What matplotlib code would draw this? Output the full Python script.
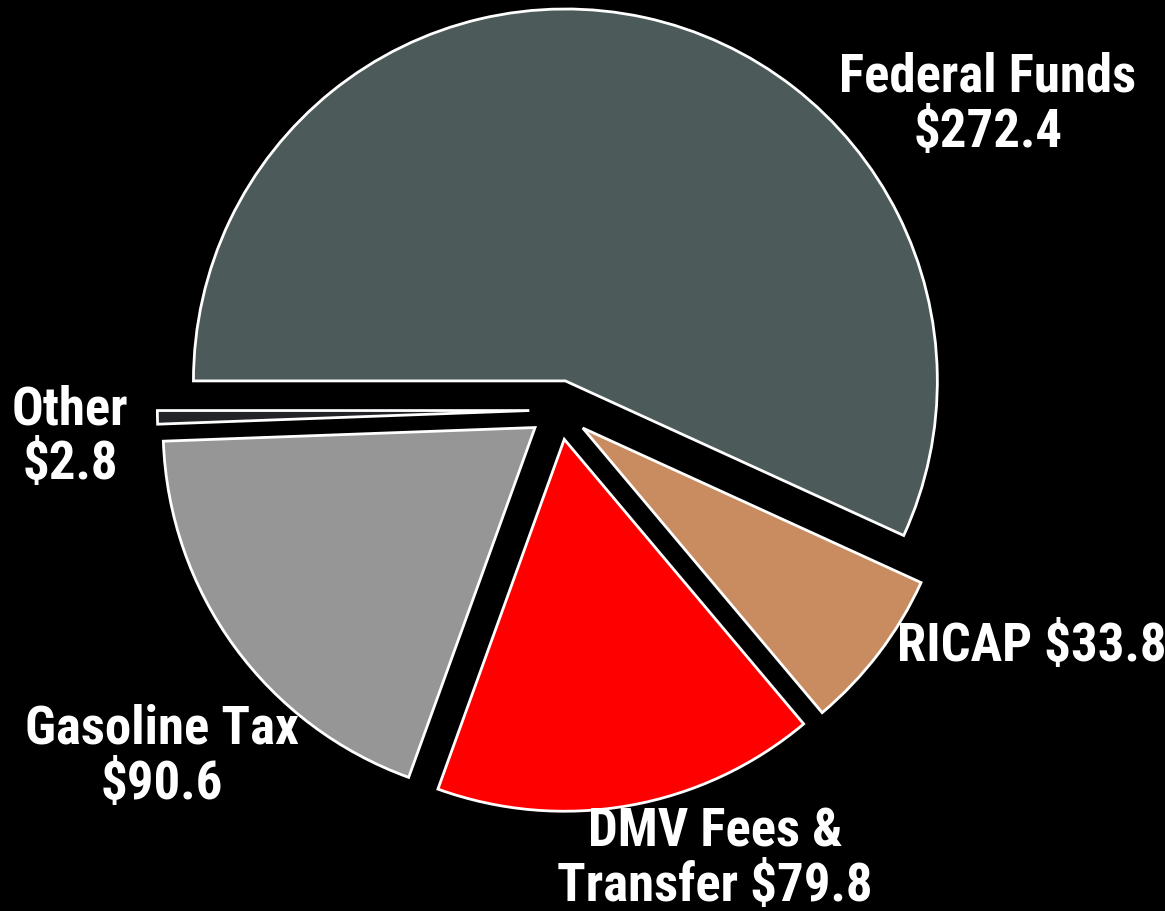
import matplotlib.pyplot as plt
import numpy as np

# Revenue sources (millions)
labels = ['Federal Funds\n$272.4', 'RICAP $33.8', 'DMV Fees &\nTransfer $79.8',
          'Gasoline Tax\n$90.6', 'Other\n$2.8']
values = [272.4, 33.8, 79.8, 90.6, 2.8]
colors = ['#4D5A5A', '#C98C60', '#FF0000', '#969696', '#222428']

plt.rcParams['font.family'] = ['Roboto Condensed', 'Liberation Sans', 'DejaVu Sans']

fig = plt.figure(figsize=(11.65, 9.12), dpi=100, facecolor='black')
ax = fig.add_axes([0, 0, 1, 1])
ax.set_facecolor('black')

wedges, _ = ax.pie(values, colors=colors, startangle=180, counterclock=False,
                   explode=[0.08] * len(values), radius=1.0,
                   wedgeprops=dict(edgecolor='white', linewidth=2.0))

# label positions in pie units
label_pos = [(1.153, 0.823), (1.272, -0.634), (0.419, -1.205),
             (-1.067, -0.930), (-1.315, -0.070)]
for txt, (x, y) in zip(labels, label_pos):
    ax.text(x, y, txt, color='white', fontsize=38, fontweight='bold',
            ha='center', va='center', linespacing=1.1)

ax.set_xlim(-1.503, 1.629)
ax.set_ylim(-1.347, 1.105)
ax.set_aspect('equal')
ax.axis('off')

fig.savefig('out.png', dpi=100, facecolor='black')
